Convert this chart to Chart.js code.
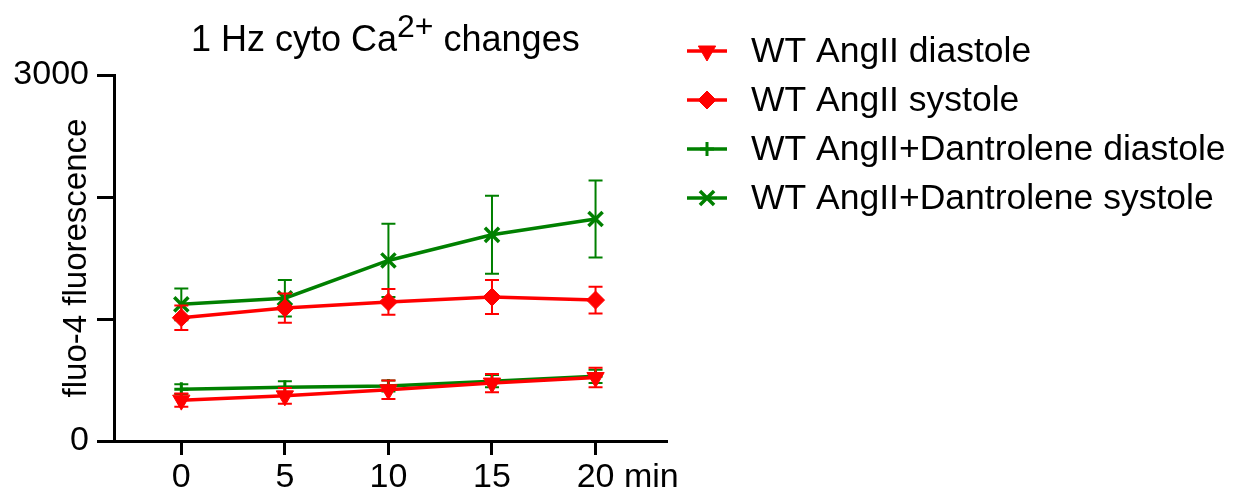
<!DOCTYPE html>
<html>
<head>
<meta charset="utf-8">
<script src="https://cdn.jsdelivr.net/npm/chart.js@4.4.1/dist/chart.umd.min.js"></script>
<style>
  body { margin: 0; background: #fff; }
  #wrap { width: 1235px; height: 492px; }
</style>
</head>
<body>
<div id="wrap"><canvas id="c" width="1235" height="492"></canvas></div>
<script>
// data
const timePoints = [0, 5, 10, 15, 20];
const xTicks = [0, 5, 10, 15, 20];
const xTickLabels = ['0', '5', '10', '15', '20'];
const xUnit = 'min';
const yTicks = [0, 1000, 2000, 3000];
const yTickLabels = ['0', '', '', '3000'];

const seriesNames = [
    'WT AngII diastole',
    'WT AngII systole',
    'WT AngII+Dantrolene diastole',
    'WT AngII+Dantrolene systole'
];
const angDiastole = [335, 370, 420, 475, 520];
const angDiastoleErr = [55, 65, 75, 75, 80];
const angSystole = [1010, 1090, 1140, 1180, 1155];
const angSystoleErr = [100, 120, 105, 140, 110];
const dantDiastole = [425, 440, 450, 490, 530];
const dantDiastoleErr = [40, 50, 45, 50, 55];
const dantSystole = [1120, 1170, 1480, 1690, 1820];
const dantSystoleErr = [130, 150, 300, 320, 315];

const RED = '#ff0000';
const GREEN = '#008000';
const FONT = '"Liberation Sans", Arial, sans-serif';

Chart.defaults.font.family = FONT;
Chart.defaults.color = '#000';

function makeSet(label, values, errs, color, style, radius, rotation, bw) {
    return {
        label: label,
        data: timePoints.map((t, i) => ({ x: t, y: values[i] })),
        errors: errs,
        borderColor: color,
        backgroundColor: color,
        borderWidth: 3.5,
        pointStyle: style,
        pointRadius: radius,
        pointRotation: rotation,
        pointBorderWidth: bw,
        pointBackgroundColor: color,
        pointBorderColor: color,
        tension: 0,
        clip: false
    };
}

// hata cubuklari - her datasetin kendi cizgisinden once
const errorBars = {
    id: 'errorBars',
    beforeDatasetDraw(chart, args) {
        const ds = chart.data.datasets[args.index];
        const yScale = chart.scales.y;
        const ctx = chart.ctx;
        ctx.save();
        ctx.strokeStyle = ds.borderColor;
        ctx.lineWidth = 2;
        args.meta.data.forEach((pt, i) => {
            const v = ds.data[i].y;
            const e = ds.errors[i];
            const top = yScale.getPixelForValue(v + e);
            const bot = yScale.getPixelForValue(v - e);
            ctx.beginPath();
            ctx.moveTo(pt.x, top); ctx.lineTo(pt.x, bot);
            ctx.moveTo(pt.x - 7, top); ctx.lineTo(pt.x + 7, top);
            ctx.moveTo(pt.x - 7, bot); ctx.lineTo(pt.x + 7, bot);
            ctx.stroke();
        });
        ctx.restore();
    }
};

// baslik (ust simge ile), birim ve legend
const extras = {
    id: 'extras',
    afterDraw(chart) {
        const ctx = chart.ctx;
        const area = chart.chartArea;
        ctx.save();
        ctx.fillStyle = '#000';
        ctx.textBaseline = 'alphabetic';

        // title
        const partA = '1 Hz cyto Ca', sup = '2+', partB = ' changes';
        ctx.font = '36px ' + FONT;
        const wA = ctx.measureText(partA).width;
        const wB = ctx.measureText(partB).width;
        ctx.font = '32px ' + FONT;
        const wS = ctx.measureText(sup).width;
        let x = 191;
        const base = 51;
        ctx.font = '36px ' + FONT;
        ctx.textAlign = 'left';
        ctx.fillText(partA, x, base);
        ctx.font = '32px ' + FONT;
        ctx.fillText(sup, x + wA, base - 14);
        ctx.font = '36px ' + FONT;
        ctx.fillText(partB, x + wA + wS, base);

        // "min" after the last x label
        const xs = chart.scales.x;
        const lastX = xs.getPixelForValue(xTicks[xTicks.length - 1]);
        ctx.font = '34px ' + FONT;
        const wLast = ctx.measureText(xTickLabels[xTickLabels.length - 1]).width;
        ctx.textBaseline = 'middle';
        ctx.fillText(' ' + xUnit, lastX + wLast / 2, xs.top + 14 + 2 + 34 * 1.2 / 2);

        // legend
        chart.data.datasets.forEach((ds, i) => {
            const cy = 51 + i * 49;
            ctx.strokeStyle = ds.borderColor;
            ctx.fillStyle = ds.borderColor;
            ctx.lineWidth = 3.5;
            ctx.beginPath();
            ctx.moveTo(687, cy); ctx.lineTo(727, cy);
            ctx.stroke();
            ctx.lineWidth = ds.pointBorderWidth;
            Chart.helpers.drawPoint(ctx, {
                pointStyle: ds.pointStyle,
                radius: ds.pointRadius,
                rotation: ds.pointRotation,
                borderWidth: ds.pointBorderWidth
            }, 707, cy);
            ctx.fillStyle = '#000';
            ctx.font = '35.5px ' + FONT;
            ctx.textBaseline = 'middle';
            ctx.fillText(ds.label, 751, cy + 1);
        });
        ctx.restore();
    }
};

new Chart(document.getElementById('c'), {
    type: 'line',
    data: {
        datasets: [
            makeSet(seriesNames[0], angDiastole, angDiastoleErr, RED, 'triangle', 10, 180, 1),
            makeSet(seriesNames[1], angSystole, angSystoleErr, RED, 'rectRot', 9, 0, 1),
            makeSet(seriesNames[2], dantDiastole, dantDiastoleErr, GREEN, 'cross', 7, 0, 3),
            makeSet(seriesNames[3], dantSystole, dantSystoleErr, GREEN, 'crossRot', 10, 0, 3.5)
        ]
    },
    options: {
        responsive: false,
        animation: false,
        events: [],
        layout: { padding: { left: 0, top: 75, right: 568, bottom: 0 } },
        plugins: {
            legend: { display: false },
            title: { display: false },
            tooltip: { enabled: false }
        },
        scales: {
            x: {
                type: 'linear',
                min: -3.25,
                max: 23.45,
                afterBuildTicks: (s) => { s.ticks = xTicks.map(v => ({ value: v })); },
                afterFit: (s) => { s.height = 51; },
                grid: { drawOnChartArea: false, drawTicks: true, tickLength: 14, tickWidth: 3, tickColor: '#000' },
                border: { display: true, color: '#000', width: 3 },
                ticks: {
                    padding: 2,
                    maxRotation: 0,
                    font: { size: 34 },
                    color: '#000',
                    callback: (v) => xTickLabels[xTicks.indexOf(v)]
                }
            },
            y: {
                type: 'linear',
                min: 0,
                max: 3000,
                afterBuildTicks: (s) => { s.ticks = yTicks.map(v => ({ value: v })); },
                afterFit: (s) => { s.width = 114; },
                grid: { drawOnChartArea: false, drawTicks: true, tickLength: 17, tickWidth: 3, tickColor: '#000' },
                border: { display: true, color: '#000', width: 3 },
                ticks: {
                    padding: 8,
                    font: { size: 34 },
                    color: '#000',
                    callback: (v) => yTickLabels[yTicks.indexOf(v)]
                },
                title: {
                    display: true,
                    text: 'fluo-4 fluorescence',
                    font: { size: 33 },
                    color: '#000',
                    padding: { top: 57, bottom: 0 }
                }
            }
        }
    },
    plugins: [errorBars, extras]
});
</script>
</body>
</html>
